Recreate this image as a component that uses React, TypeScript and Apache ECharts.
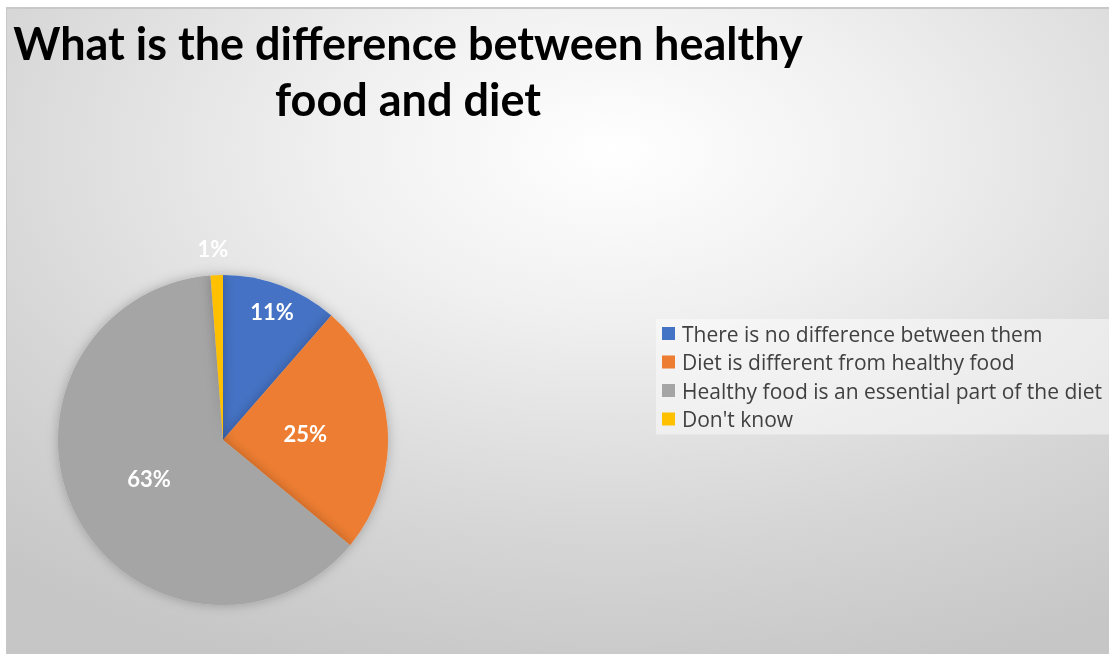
import React, { useEffect, useRef } from "react";
import * as echarts from "echarts";

const categories = [
  "There is no difference between them",
  "Diet is different from healthy food",
  "Healthy food is an essential part of the diet",
  "Don't know",
];
const values = [11.4, 24.6, 62.8, 1.2];
const colors = ["#4472C4", "#ED7D31", "#A5A5A5", "#FFC000"];
const labelOffsets: [number, number][] = [[19, -48], [-3, 0], [2, -1], [-7, -106]];
const titleText = "What is the difference between healthy\nfood and diet";

export default function App() {
  const ref = useRef<HTMLDivElement>(null);
  useEffect(() => {
    if (!ref.current) return;
    const chart = echarts.init(ref.current, null, { renderer: "svg" });
    chart.setOption({
      animation: false,
      backgroundColor: new echarts.graphic.RadialGradient(0.55, 0.22, 0.85, [
        { offset: 0, color: "#ffffff" },
        { offset: 0.3, color: "#f0f0f0" },
        { offset: 0.7, color: "#d6d6d6" },
        { offset: 1, color: "#c6c6c6" },
      ]),
      title: {
        text: titleText,
        left: 396,
        top: 1,
        textAlign: "center",
        textStyle: {
          fontFamily: "Lato",
          fontWeight: "bold",
          fontSize: 45,
          lineHeight: 56,
          color: "#000000",
        },
      },
      legend: {
        orient: "vertical",
        left: 649,
        top: 310,
        padding: [4, 8, 5, 6],
        backgroundColor: "rgba(255,255,255,0.45)",
        icon: "rect",
        itemWidth: 13,
        itemHeight: 13,
        itemGap: 7.5,
        textStyle: { fontFamily: "Open Sans", fontSize: 21, color: "#404040", padding: [0, 0, 0, 2] },
        data: categories,
      },
      series: [
        {
          type: "pie",
          center: [216, 431],
          radius: 165,
          startAngle: 90,
          clockwise: true,
          avoidLabelOverlap: false,
          itemStyle: { shadowBlur: 12, shadowColor: "rgba(0,0,0,0.25)" },
          label: {
            show: true,
            position: "inside",
            formatter: (p: any) => Math.round(p.percent) + "%",
            color: "#ffffff",
            fontFamily: "Lato",
            fontWeight: "bold",
            fontSize: 22,
          },
          labelLine: { show: false },
          emphasis: { disabled: true },
          data: categories.map((name, i) => ({
            name,
            value: values[i],
            itemStyle: { color: colors[i] },
            label: { offset: labelOffsets[i] },
          })),
        },
      ],
    });
    return () => chart.dispose();
  }, []);
  return (
    <div
      ref={ref}
      style={{
        position: "fixed",
        left: 6,
        top: 7,
        width: 1103,
        height: 647,
        borderTop: "2px solid #c8c8c8",
        borderLeft: "1px solid #c8c8c8",
        boxSizing: "border-box",
      }}
    />
  );
}
